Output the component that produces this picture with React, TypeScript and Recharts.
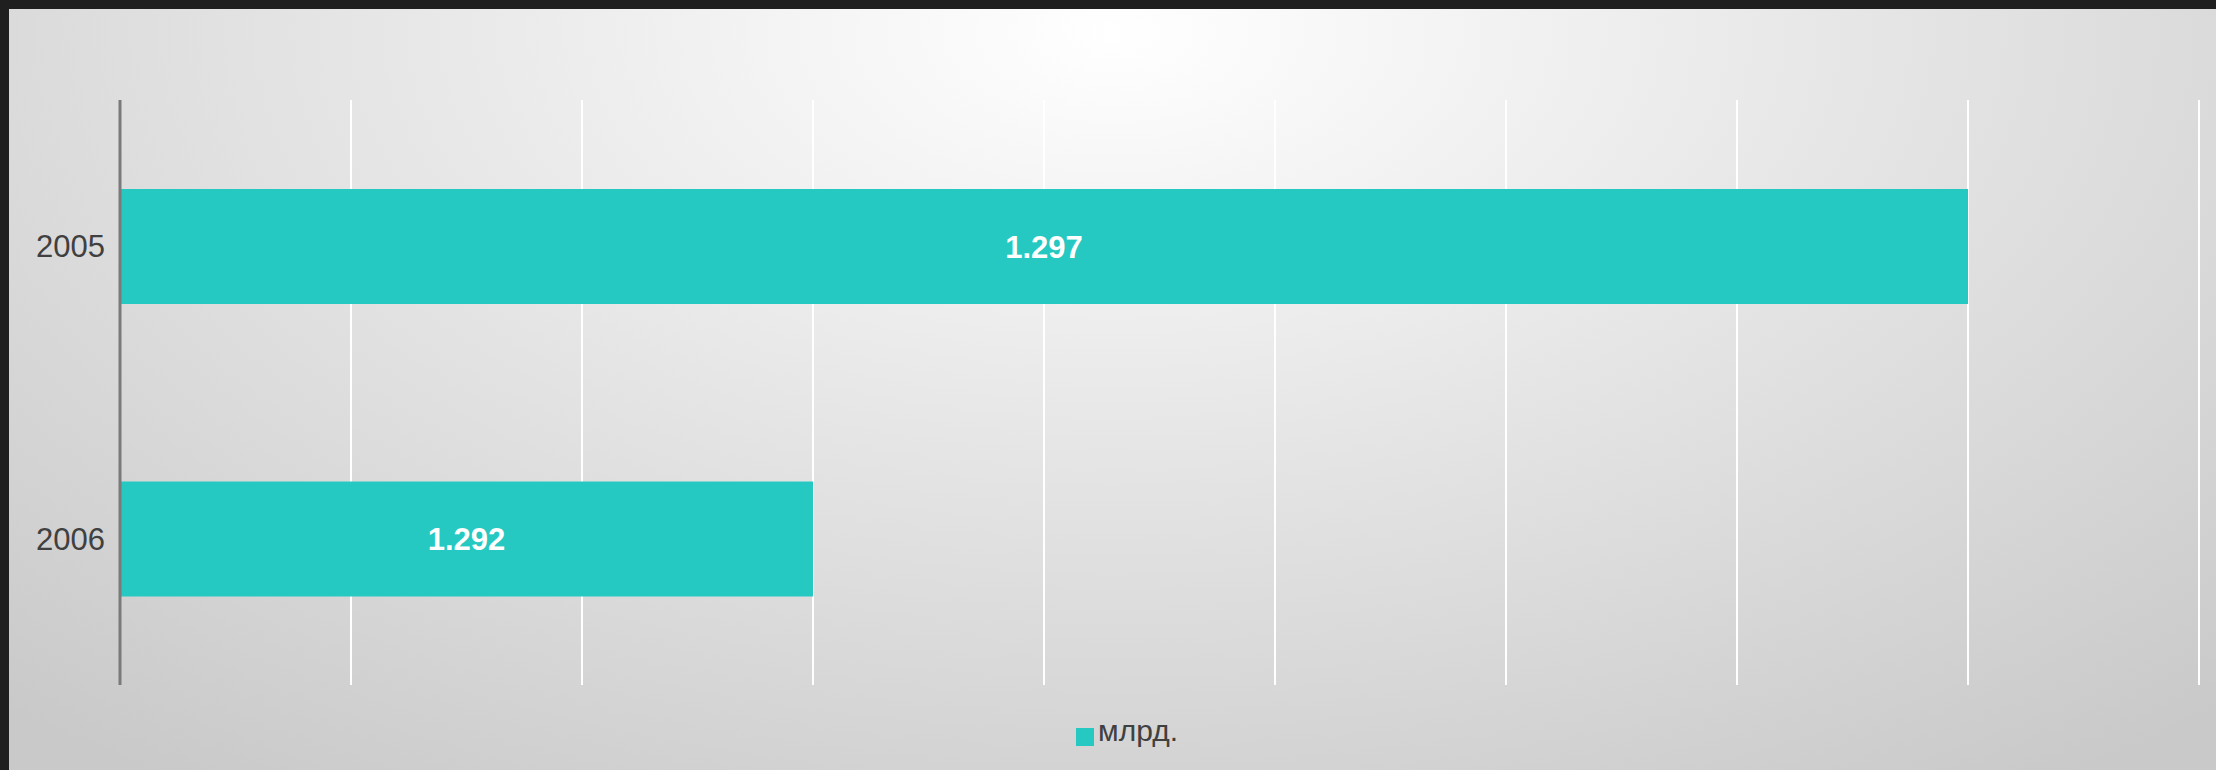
import React from 'react';
import { BarChart, Bar, XAxis, YAxis, CartesianGrid, Legend, LabelList } from 'recharts';

const years = ['2005', '2006'];
const values = [1297, 1292];
const xTicks = [1289, 1290, 1291, 1292, 1293, 1294, 1295, 1296, 1297, 1298];
const seriesName = 'млрд.';

const data = years.map((year, i) => ({ year, value: values[i] }));

const fmt = (v: any) => {
  const n = Number(v);
  return `${Math.floor(n / 1000)}.${String(n % 1000).padStart(3, '0')}`;
};

const FONT = '"Liberation Sans", Arial, sans-serif';

const App: React.FC = () => {
  return (
    <div
      style={{
        position: 'absolute',
        left: 0,
        top: 0,
        width: 2216,
        height: 770,
        background: '#1f1f1f',
        fontFamily: FONT,
      }}
    >
      <div
        style={{
          position: 'absolute',
          left: 9,
          top: 9,
          width: 2207,
          height: 761,
          background:
            'radial-gradient(ellipse 75% 120% at 50% 3%, #ffffff 0%, #e6e6e6 45%, #c9c9c9 100%)',
        }}
      />
      <div style={{ position: 'absolute', left: 0, top: 0 }}>
        <BarChart
          width={2216}
          height={770}
          data={data}
          layout="vertical"
          margin={{ top: 100, right: 17, left: 0, bottom: 85 }}
        >
          <CartesianGrid horizontal={false} stroke="#ffffff" strokeWidth={2} />
          <XAxis
            type="number"
            domain={[1289, 1298]}
            ticks={xTicks}
            interval={0}
            allowDataOverflow
            axisLine={false}
            tickLine={false}
            tick={{ fill: 'transparent', fontSize: 1 }}
            height={0}
          />
          <YAxis
            type="category"
            dataKey="year"
            width={120}
            axisLine={{ stroke: '#7a7a7a', strokeWidth: 3 }}
            tickLine={false}
            tickMargin={9}
            tick={{ fill: '#404040', fontSize: 31, fontFamily: FONT }}
          />
          <Legend
            layout="horizontal"
            align="center"
            verticalAlign="middle"
            iconType="square"
            iconSize={18}
            wrapperStyle={{ top: 714, left: 1076, width: 'auto' }}
            formatter={(value: any) => (
              <span style={{ color: '#404040', fontSize: 30, fontFamily: FONT }}>{value}</span>
            )}
          />
          <Bar dataKey="value" name={seriesName} fill="#25c9c1" barSize={115} isAnimationActive={false}>
            <LabelList
              dataKey="value"
              position="center"
              formatter={fmt}
              fill="#ffffff"
              fontSize={31}
              fontWeight="bold"
              fontFamily={FONT}
            />
          </Bar>
        </BarChart>
      </div>
    </div>
  );
};

export default App;
